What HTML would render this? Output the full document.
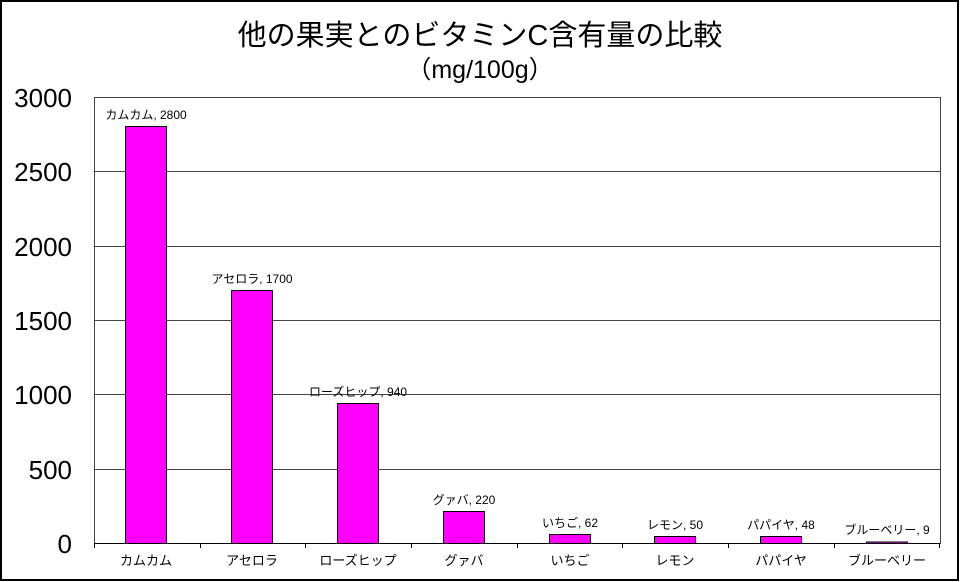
<!DOCTYPE html>
<html><head><meta charset="utf-8"><style>
body{margin:0;background:#fff;}
svg{display:block;font-family:"Liberation Sans","Noto Sans CJK JP",sans-serif;}
</style></head><body>
<svg width="960" height="582" xmlns="http://www.w3.org/2000/svg">
<rect x="1" y="1" width="957" height="579" fill="#fff" stroke="#000" stroke-width="2"/>
<text x="480" y="45" font-size="29" text-anchor="middle">他の果実とのビタミンC含有量の比較</text>
<text x="480" y="78" font-size="25" text-anchor="middle">（mg/100g）</text>
<g stroke="#000" stroke-width="1">
<rect x="94.5" y="97.5" width="846" height="446" fill="none" stroke="#444"/>
<line x1="94" y1="171.5" x2="940" y2="171.5" stroke="#444"/>
<line x1="94" y1="246.5" x2="940" y2="246.5" stroke="#444"/>
<line x1="94" y1="320.5" x2="940" y2="320.5" stroke="#444"/>
<line x1="94" y1="394.5" x2="940" y2="394.5" stroke="#444"/>
<line x1="94" y1="469.5" x2="940" y2="469.5" stroke="#444"/>
</g>
<g fill="#ff00ff" stroke="#000" stroke-width="1">
<rect x="125.5" y="126.5" width="41" height="417"/>
<rect x="231.5" y="290.5" width="41" height="253"/>
<rect x="337.5" y="403.5" width="41" height="140"/>
<rect x="443.5" y="511.5" width="41" height="32"/>
<rect x="549.5" y="534.5" width="41" height="9"/>
<rect x="654.5" y="536.5" width="41" height="7"/>
<rect x="760.5" y="536.5" width="41" height="7"/>
<rect x="866.5" y="542" width="41" height="1.5"/>
</g>
<g stroke="#000">
<line x1="94" y1="543.5" x2="940" y2="543.5"/>
<line x1="94.5" y1="543" x2="94.5" y2="548"/>
<line x1="200.5" y1="543" x2="200.5" y2="548"/>
<line x1="305.5" y1="543" x2="305.5" y2="548"/>
<line x1="411.5" y1="543" x2="411.5" y2="548"/>
<line x1="517.5" y1="543" x2="517.5" y2="548"/>
<line x1="622.5" y1="543" x2="622.5" y2="548"/>
<line x1="728.5" y1="543" x2="728.5" y2="548"/>
<line x1="834.5" y1="543" x2="834.5" y2="548"/>
<line x1="939.5" y1="543" x2="939.5" y2="548"/>
</g>
<g font-size="26" text-anchor="end">
<text x="72" y="107">3000</text>
<text x="72" y="181">2500</text>
<text x="72" y="256">2000</text>
<text x="72" y="330">1500</text>
<text x="72" y="404">1000</text>
<text x="72" y="479">500</text>
<text x="72" y="553">0</text>
</g>
<g font-size="12" text-anchor="middle">
<text x="146" y="119">カムカム, 2800</text>
<text x="252" y="283">アセロラ, 1700</text>
<text x="358" y="396">ローズヒップ, 940</text>
<text x="464" y="504">グァバ, 220</text>
<text x="570" y="527">いちご, 62</text>
<text x="675" y="529">レモン, 50</text>
<text x="781" y="529">パパイヤ, 48</text>
<text x="887" y="534">ブルーベリー, 9</text>
</g>
<g font-size="13" text-anchor="middle">
<text x="146" y="565">カムカム</text>
<text x="252" y="565">アセロラ</text>
<text x="358" y="565">ローズヒップ</text>
<text x="464" y="565">グァバ</text>
<text x="570" y="565">いちご</text>
<text x="675" y="565">レモン</text>
<text x="781" y="565">パパイヤ</text>
<text x="887" y="565">ブルーベリー</text>
</g>
</svg>
</body></html>
